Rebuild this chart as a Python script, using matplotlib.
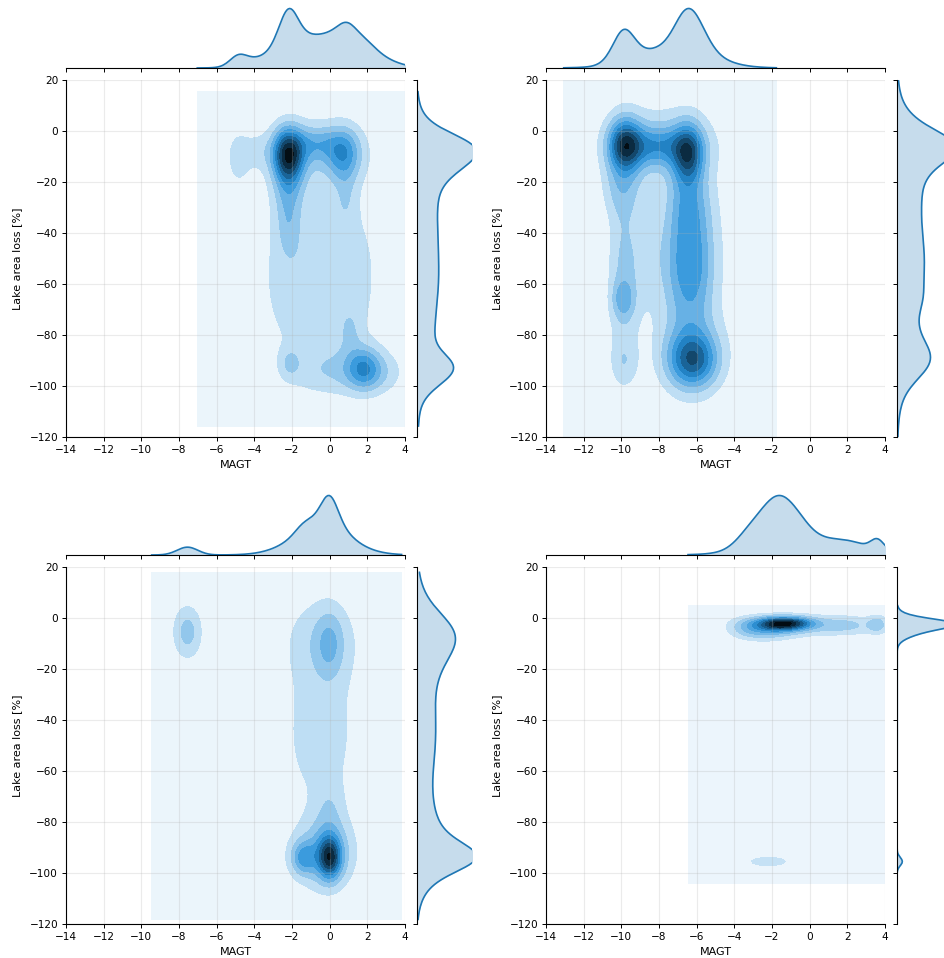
import colorsys
import numpy as np
import matplotlib.pyplot as plt
from matplotlib.colors import LinearSegmentedColormap, to_rgb

# Each joint density is a sum of gaussian blobs:
# centre MAGT, centre lake area loss, spread MAGT, spread loss, peak height
p1_cx = [-2.2, -2.2, -2.2, 0.75, 0.85, -0.7, -0.6, -4.9, -3.9, -1.9, 0.9, 1.8, 2.5, 0.4, -2.1, 1.1, -4.8]
p1_cy = [-9, -22, -38, -9, -26, -5, -8, -10, -8, -57, -57, -93, -95, -94, -91, -79, -50]
p1_sx = [0.55, 0.55, 0.4, 0.6, 0.4, 0.9, 1.9, 0.4, 0.6, 1.4, 1.4, 0.6, 1.0, 1.8, 0.35, 0.4, 0.5]
p1_sy = [7, 9, 8, 7, 8, 4.5, 9, 6.5, 5, 25, 25, 5.5, 6, 6.5, 4, 6, 30]
p1_amp = [7.0, 2.3, 1.2, 3.3, 1.1, 2.0, 1.6, 1.1, 1.0, 1.5, 1.5, 3.0, 1.2, 1.5, 1.3, 1.0, 0.6]
p1_xgrid = [-7.03, 4.6]
p1_ygrid = [-115.7, 15.4]

p2_cx = [-9.8, -6.45, -8.1, -8.0, -6.45, -6.8, -5.9, -6.2, -6.3, -6.2, -10.0, -9.9, -9.9, -9.85, -8.4, -9.9]
p2_cy = [-5.5, -9, -6, -5, -28, -52, -52, -90, -88, -50, -22, -58, -66, -91, -50, -45]
p2_sx = [0.6, 0.55, 1.2, 2.0, 0.7, 0.6, 0.6, 0.85, 1.2, 1.6, 0.7, 0.55, 0.4, 0.5, 0.9, 0.7]
p2_sy = [7, 8, 5, 10, 9, 18, 18, 7, 11, 28, 8, 24, 5, 6, 16, 40]
p2_amp = [6.0, 5.5, 2.8, 2.0, 1.8, 2.4, 2.4, 4.3, 2.2, 1.2, 1.6, 1.5, 1.9, 1.1, 1.0, 0.5]
p2_xgrid = [-13.06, -1.77]
p2_ygrid = [-128, 28]

p3_cx = [0.0, -0.1, -1.4, -0.4, 0.0, -0.5, 0.0, -0.4, -7.55]
p3_cy = [-94, -92, -94, -93, -75, -45, -10, -8, -5.5]
p3_sx = [0.4, 0.8, 0.45, 1.3, 0.5, 1.6, 0.5, 1.4, 0.55]
p3_sy = [5.5, 9, 4.5, 10, 8, 25, 9, 12, 7.5]
p3_amp = [5.5, 2.0, 3.0, 1.5, 1.0, 1.45, 1.7, 1.4, 2.4]
p3_xgrid = [-9.45, 3.82]
p3_ygrid = [-118.2, 17.9]

p4_cx = [-1.7, -0.7, -1.6, 0.3, -3.2, 3.6, -2.4, 2.0, -2.2, -0.8]
p4_cy = [-2.3, -2.0, -2.5, -3, -3.5, -2.5, -6.5, -2.8, -95.5, -50]
p4_sx = [0.75, 0.7, 1.4, 2.6, 0.7, 0.35, 1.1, 1.0, 0.9, 1.2]
p4_sy = [1.7, 1.5, 2.4, 3.0, 2.5, 2.5, 2.2, 2.5, 1.6, 30]
p4_amp = [4.5, 2.5, 2.0, 1.2, 1.2, 1.5, 1.2, 0.9, 1.3, 0.05]
p4_xgrid = [-6.46, 4.6]
p4_ygrid = [-104.3, 4.8]

BLUE = '#1f77b4'
h, l, s = colorsys.rgb_to_hls(*to_rgb(BLUE))
cmap = LinearSegmentedColormap.from_list(
    'joint', [colorsys.hls_to_rgb(h, v, s) for v in np.linspace(1, 0, 12)])

plt.rcParams.update({
    'font.size': 7.6,
    'axes.labelsize': 8.0,
    'axes.linewidth': 0.8,
    'xtick.major.size': 2.8, 'ytick.major.size': 2.8,
    'xtick.major.width': 0.7, 'ytick.major.width': 0.7,
    'xtick.major.pad': 2.8, 'ytick.major.pad': 2.8,
})

fig = plt.figure(figsize=(9.44, 9.58), dpi=100)


def box(left, top, w, hgt):
    return [left / 944, 1 - (top + hgt) / 958, w / 944, hgt / 958]


def draw_panel(left, top, cx, cy, sx, sy, amp, xgrid, ygrid, marg_w):
    cx, cy, sx, sy, amp = map(np.asarray, (cx, cy, sx, sy, amp))
    xs = np.linspace(xgrid[0], xgrid[1], 160)
    ys = np.linspace(ygrid[0], ygrid[1], 160)
    xx, yy = np.meshgrid(xs, ys)
    z = np.zeros_like(xx)
    for i in range(len(cx)):
        z += amp[i] * np.exp(-0.5 * ((xx - cx[i]) / sx[i]) ** 2
                             - 0.5 * ((yy - cy[i]) / sy[i]) ** 2)

    ax = fig.add_axes(box(left, top, 339, 357))
    ax.contourf(xx, yy, z, 10, cmap=cmap)
    ax.set_xlim(-14, 4)
    ax.set_ylim(-120, 20)
    ax.set_xticks(range(-14, 5, 2))
    ax.set_yticks(range(-120, 21, 20))
    ax.grid(True, color='#b0b0b0', alpha=0.25, lw=0.8)
    ax.spines[['top', 'right']].set_visible(False)
    ax.set_xlabel('MAGT', labelpad=4)
    ax.set_ylabel('Lake area loss [%]', labelpad=5)

    # marginals = the blobs integrated over the other axis
    mx = (amp * sy * np.exp(-0.5 * ((xs[:, None] - cx) / sx) ** 2)).sum(1)
    my = (amp * sx * np.exp(-0.5 * ((ys[:, None] - cy) / sy) ** 2)).sum(1)

    axx = fig.add_axes(box(left, top - 80, 339, 68))
    axx.fill_between(xs, 0, mx, color=BLUE, alpha=0.25, lw=0)
    axx.plot(xs, mx, color=BLUE, lw=1.2)
    axx.set_xlim(-14, 4)
    axx.set_ylim(0, mx.max() * 1.143)
    axx.set_xticks(range(-14, 5, 2))
    axx.tick_params(labelbottom=False, left=False, labelleft=False)
    axx.spines[['top', 'right', 'left']].set_visible(False)
    axx.patch.set_visible(False)

    axy = fig.add_axes(box(left + 351, top, marg_w, 357))
    axy.fill_betweenx(ys, 0, my, color=BLUE, alpha=0.25, lw=0)
    axy.plot(my, ys, color=BLUE, lw=1.2)
    axy.set_ylim(-120, 20)
    axy.set_xlim(0, my.max() * 1.143 * marg_w / 68)
    axy.set_yticks(range(-120, 21, 20))
    axy.tick_params(labelleft=False, bottom=False, labelbottom=False)
    axy.spines[['top', 'right', 'bottom']].set_visible(False)
    axy.patch.set_visible(False)


draw_panel(66, 80, p1_cx, p1_cy, p1_sx, p1_sy, p1_amp, p1_xgrid, p1_ygrid, 55)
draw_panel(546, 80, p2_cx, p2_cy, p2_sx, p2_sy, p2_amp, p2_xgrid, p2_ygrid, 68)
draw_panel(66, 567, p3_cx, p3_cy, p3_sx, p3_sy, p3_amp, p3_xgrid, p3_ygrid, 55)
draw_panel(546, 567, p4_cx, p4_cy, p4_sx, p4_sy, p4_amp, p4_xgrid, p4_ygrid, 68)

fig.savefig('out.png', dpi=100)
